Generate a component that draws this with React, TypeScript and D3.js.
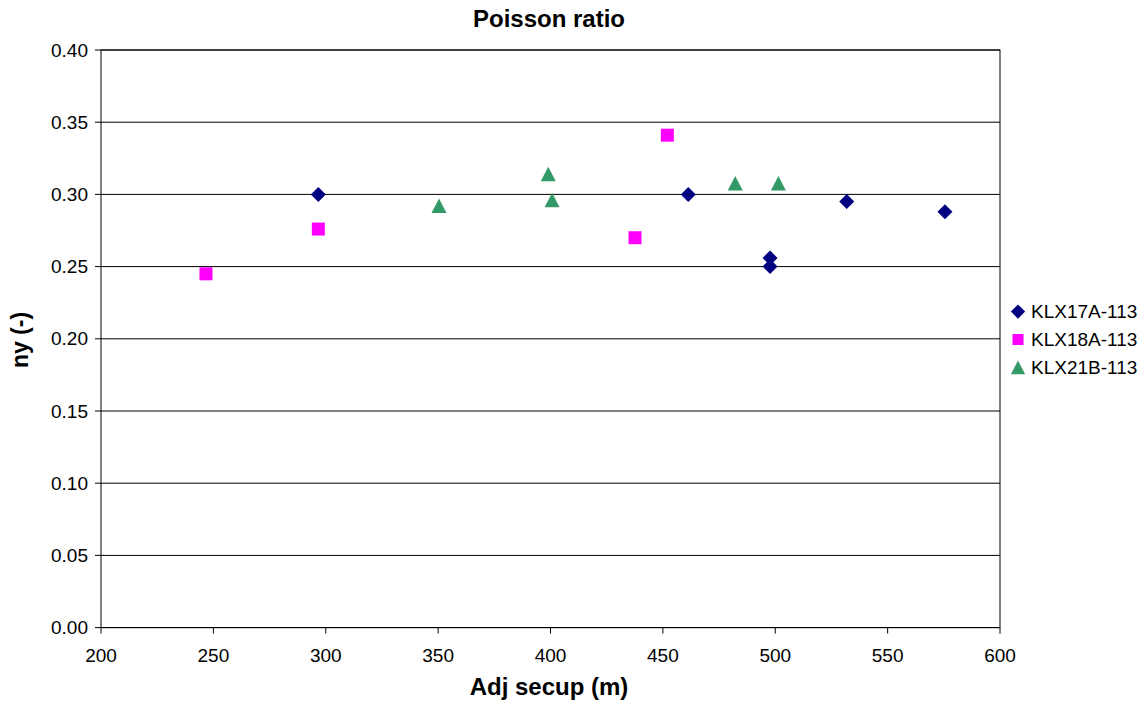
import React from "react";
import * as d3 from "d3";

const xTicks = [200, 250, 300, 350, 400, 450, 500, 550, 600];
const yTicks = [0, 0.05, 0.1, 0.15, 0.2, 0.25, 0.3, 0.35, 0.4];

const klx17aX = [296.7, 461.3, 531.8, 575.5, 497.7, 497.7];
const klx17aY = [0.300, 0.300, 0.295, 0.288, 0.256, 0.250];

const klx18aX = [246.7, 296.7, 452.0, 437.6];
const klx18aY = [0.245, 0.276, 0.341, 0.270];

const klx21bX = [350.4, 399.0, 400.7, 482.2, 501.4];
const klx21bY = [0.292, 0.314, 0.296, 0.3075, 0.3075];

const seriesNames = ["KLX17A-113", "KLX18A-113", "KLX21B-113"];
const seriesColors = ["#000080", "#FF00FF", "#339966"];

const diamond = "M0,-7.5L7.5,0L0,7.5L-7.5,0Z";
const square = "M-6.5,-6.5H6.5V6.5H-6.5Z";
const triangle = "M0,-7.5L7.5,7L-7.5,7Z";
const shapes = [diamond, square, triangle];

export default function App() {
  const W = 1144, H = 709;
  const left = 101, right = 1000, top = 50, bottom = 627.6;
  const x = d3.scaleLinear().domain([200, 600]).range([left, right]);
  const y = d3.scaleLinear().domain([0, 0.4]).range([bottom, top]);
  const font = "Liberation Sans, Arial, sans-serif";
  const series = [
    { xs: klx17aX, ys: klx17aY },
    { xs: klx18aX, ys: klx18aY },
    { xs: klx21bX, ys: klx21bY },
  ];
  return (
    <svg width={W} height={H} style={{ position: "absolute", left: 0, top: 0, background: "#fff" }} fontFamily={font}>
      <rect x={0} y={0} width={W} height={H} fill="#fff" />
      {yTicks.map((t) => (
        <line key={"g" + t} x1={left} x2={right} y1={y(t)} y2={y(t)} stroke="#000" strokeWidth={1} />
      ))}
      <rect x={left} y={top} width={right - left} height={bottom - top} fill="none" stroke="#000" strokeWidth={1} />
      {yTicks.map((t) => (
        <g key={"y" + t}>
          <line x1={left - 6} x2={left} y1={y(t)} y2={y(t)} stroke="#000" />
          <text x={88} y={y(t)} dy="0.35em" textAnchor="end" fontSize={19} fill="#000">
            {t.toFixed(2)}
          </text>
        </g>
      ))}
      {xTicks.map((t) => (
        <g key={"x" + t}>
          <line x1={x(t)} x2={x(t)} y1={bottom} y2={bottom + 6} stroke="#000" />
          <text x={x(t)} y={662} textAnchor="middle" fontSize={19} fill="#000">
            {t}
          </text>
        </g>
      ))}
      {series.map((s, i) =>
        s.xs.map((xv, j) => (
          <path key={i + "-" + j} d={shapes[i]} transform={`translate(${x(xv)},${y(s.ys[j])})`} fill={seriesColors[i]} />
        ))
      )}
      <text x={549} y={27} textAnchor="middle" fontSize={24} fontWeight="bold" fill="#000">
        Poisson ratio
      </text>
      <text x={549} y={695} textAnchor="middle" fontSize={24} fontWeight="bold" fill="#000">
        Adj secup (m)
      </text>
      <text transform={`translate(28,340) rotate(-90)`} textAnchor="middle" fontSize={23} fontWeight="bold" fill="#000">
        ny (-)
      </text>
      {seriesNames.map((n, i) => (
        <g key={n} transform={`translate(1018,${311.5 + i * 28})`}>
          <path d={shapes[i]} transform={i === 1 ? "scale(0.85)" : "scale(0.95)"} fill={seriesColors[i]} />
          <text x={13} y={0} dy="0.35em" fontSize={19} fill="#000">
            {n}
          </text>
        </g>
      ))}
    </svg>
  );
}
